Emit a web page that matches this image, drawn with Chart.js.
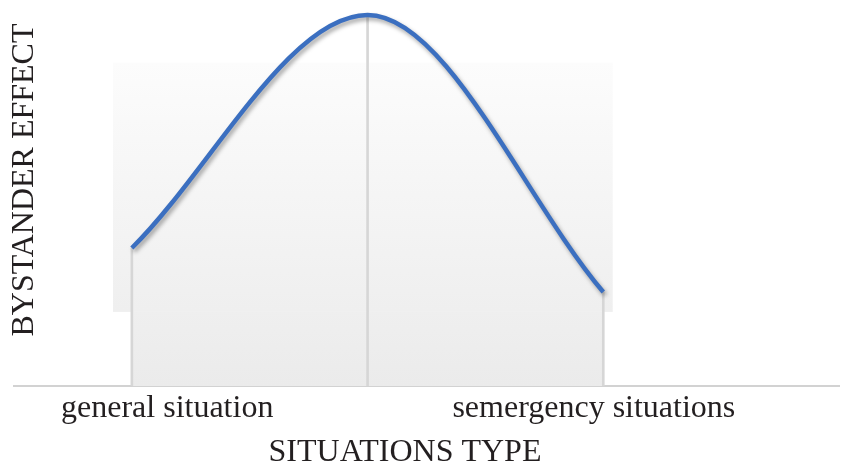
<!DOCTYPE html>
<html>
<head>
<meta charset="utf-8">
<script src="https://cdn.jsdelivr.net/npm/chart.js@4.4.1/dist/chart.umd.min.js"></script>
<style>
  html, body { margin: 0; padding: 0; background: #fff; }
  #wrap { width: 841px; height: 463px; position: relative; }
</style>
</head>
<body>
<div id="wrap"><canvas id="curveChart"></canvas></div>
<script>
"use strict"

// data
const situations = ['general situation', 'semergency situations'];
const labelPos = [1.15, 2.96];        // where the two category labels sit
const pointX = [1, 2, 3];
const bystanderEffect = [36.7, 98.7, 25];

const serif = "'Liberation Serif', 'Times New Roman', serif";
const textColor = '#231f20';

// light grey panel behind the curve + shadow under the line + axis titles
const decoPlugin = {
    id: 'deco',
    beforeDatasetsDraw(chart) {
        const ctx = chart.ctx;
        const x = chart.scales.x, y = chart.scales.y;
        const grad = ctx.createLinearGradient(0, y.getPixelForValue(86), 0, y.getPixelForValue(0));
        grad.addColorStop(0, '#fcfcfc');
        grad.addColorStop(1, '#ebebeb');
        ctx.save();
        ctx.fillStyle = grad;
        // upper wide part
        let l = x.getPixelForValue(0.92), r = x.getPixelForValue(3.04);
        let t = y.getPixelForValue(86), b = y.getPixelForValue(19.7);
        ctx.fillRect(l, t, r - l, b - t);
        // lower part between the outer drop lines
        l = x.getPixelForValue(1); r = x.getPixelForValue(3);
        t = b; b = y.getPixelForValue(0);
        ctx.fillRect(l, t, r - l, b - t);
        ctx.restore();
    },
    beforeDatasetDraw(chart, args) {
        if (args.meta.type !== 'line') return;
        const ctx = chart.ctx;
        ctx.save();
        ctx.shadowColor = 'rgba(0,0,0,0.35)';
        ctx.shadowBlur = 4;
        ctx.shadowOffsetX = 2;
        ctx.shadowOffsetY = 3;
    },
    afterDatasetDraw(chart, args) {
        if (args.meta.type !== 'line') return;
        chart.ctx.restore();
    },
    afterDraw(chart) {
        const ctx = chart.ctx;
        ctx.save();
        ctx.fillStyle = textColor;
        ctx.font = '32px ' + serif;
        ctx.textAlign = 'center';
        ctx.textBaseline = 'alphabetic';
        ctx.fillText('SITUATIONS TYPE', 405, 461);
        ctx.translate(33, 180);
        ctx.rotate(-Math.PI / 2);
        ctx.fillText('BYSTANDER EFFECT', 0, 0);
        ctx.restore();
    }
};

const canvas = document.getElementById('curveChart');
const ctx = canvas.getContext('2d');

new Chart(ctx, {
    data: {
        datasets: [{
            type: 'line',
            label: 'Bystander effect',
            data: pointX.map((v, i) => ({ x: v, y: bystanderEffect[i] })),
            borderColor: '#3b6fc0',
            borderWidth: 4.5,
            cubicInterpolationMode: 'monotone',
            pointRadius: 0,
            fill: false,
            order: 0
        }, {
            // drop lines from each point to the axis
            type: 'bar',
            label: 'drop',
            data: pointX.map((v, i) => ({ x: v, y: bystanderEffect[i] })),
            backgroundColor: '#d6d6d6',
            barThickness: 2,
            order: 1
        }]
    },
    plugins: [decoPlugin],
    options: {
        responsive: true,
        maintainAspectRatio: false,
        animation: false,
        layout: { padding: { left: 14, right: 2, top: 10, bottom: 0 } },
        plugins: {
            legend: { display: false },
            tooltip: { enabled: false }
        },
        scales: {
            x: {
                type: 'linear',
                position: 'bottom',
                weight: 0,
                offset: false,
                min: 0.5,
                max: 4,
                grid: { display: false },
                border: { display: true, color: '#d2d2d2', width: 2 },
                ticks: { display: false },
                afterFit(scale) { scale.height = 0; }
            },
            xl: {
                type: 'linear',
                position: 'bottom',
                weight: 1,
                offset: false,
                min: 0.5,
                max: 4,
                grid: { display: false, drawTicks: false },
                border: { display: false },
                afterBuildTicks(scale) {
                    scale.ticks = labelPos.map(v => ({ value: v }));
                },
                afterFit(scale) { scale.height = 77; },
                ticks: {
                    padding: 3,
                    maxRotation: 0,
                    autoSkip: false,
                    color: textColor,
                    font: { family: serif, size: 32 },
                    callback: function(value) {
                        const i = labelPos.indexOf(value);
                        return i >= 0 ? situations[i] : '';
                    }
                }
            },
            y: {
                display: false,
                min: 0,
                max: 100
            }
        }
    }
});
</script>
</body>
</html>
